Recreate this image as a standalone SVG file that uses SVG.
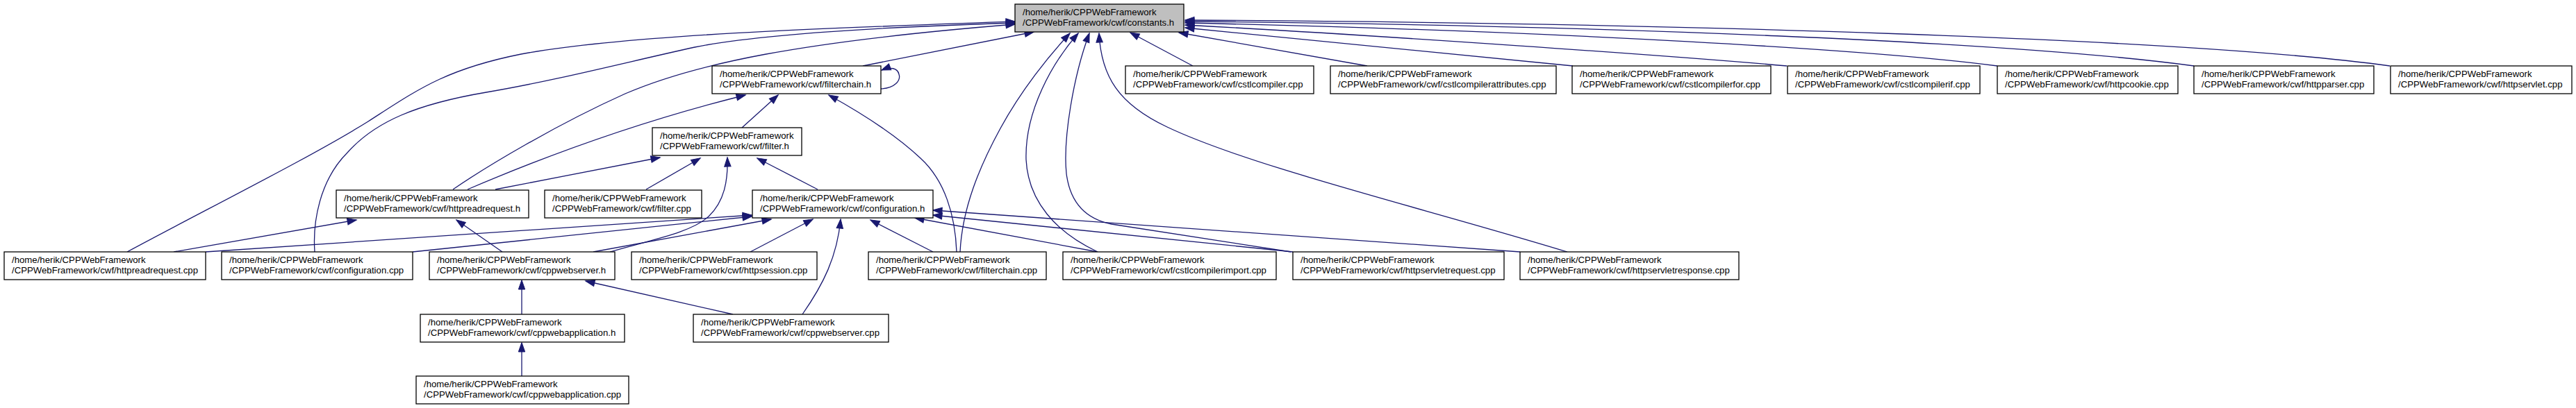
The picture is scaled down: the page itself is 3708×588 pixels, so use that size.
<svg xmlns="http://www.w3.org/2000/svg" width="3708" height="588" viewBox="0 0 3708 588">
<style>
.node rect{fill:#ffffff;stroke:#000000;stroke-width:1.3}
.node.main rect{fill:#bfbfbf}
.node text{font-family:"Liberation Sans",Arial,sans-serif;font-size:13.2px;fill:#000000}
.edges path{fill:none;stroke:#191970;stroke-width:1.3;marker-end:url(#arr)}
</style>
<defs>
<marker id="arr" markerUnits="userSpaceOnUse" markerWidth="16" markerHeight="12" refX="13" refY="4.7" orient="auto" overflow="visible">
<path d="M0,0 L13.3,4.7 L0,9.4 z" fill="#191970" stroke="#191970" stroke-width="1"/>
</marker>
</defs>
<rect width="3708" height="588" fill="#ffffff"/>
<g class="edges">
<path d="M1242,95 L1488,46"/>
<path d="M1717,95 L1627,47"/>
<path d="M1968,95 L1697,47"/>
<path d="M2264,95 L1706,40"/>
<path d="M2572,95 C2400,80 2000,52 1706,36"/>
<path d="M2875,95 C2700,72 2250,45 1706,33"/>
<path d="M3158,95 C2900,60 2300,36 1706,31"/>
<path d="M3440,95 C3150,55 2400,33 1706,29"/>
<path d="M183,363 C300,300 450,225 530,175 C600,130 640,100 750,78 C900,50 1200,40 1461,31"/>
<path d="M453,363 C450,320 460,260 500,220 C540,175 600,150 700,133 C800,116 900,90 1000,68 C1100,48 1300,38 1461,33"/>
<path d="M652,273 C700,240 800,180 900,135 C1000,92 1150,60 1461,35"/>
<path d="M1382,363 C1385,300 1410,240 1440,185 C1470,130 1510,80 1540,48"/>
<path d="M1580,363 C1520,335 1480,290 1477,230 C1475,160 1515,90 1552,48"/>
<path d="M1858,363 L1600,323 C1560,315 1540,290 1535,250 C1530,200 1545,110 1568,48"/>
<path d="M2256,363 C2050,300 1800,240 1680,183 C1610,150 1585,110 1582,48"/>
<path d="M1068,184 L1120,137"/>
<path d="M673,273 C750,240 900,180 1073,137"/>
<path d="M1377,363 C1375,310 1360,260 1325,228 C1290,195 1240,163 1193,137"/>
<path d="M1268,128 C1288,127 1297,116 1294,107 C1292,98 1282,96 1269,101"/>
<path d="M713,273 L950,227"/>
<path d="M930,273 L1008,228"/>
<path d="M878,363 C940,345 995,335 1020,312 C1043,290 1048,260 1047,227"/>
<path d="M854,363 L1110,316"/>
<path d="M1177,273 L1090,228"/>
<path d="M296,363 L1082,310"/>
<path d="M594,363 L1082,312"/>
<path d="M1080,363 L1170,316"/>
<path d="M1155,453 C1185,410 1205,370 1210,316"/>
<path d="M1343,363 L1253,317"/>
<path d="M1580,363 L1317,314"/>
<path d="M1861,363 L1343,310"/>
<path d="M2188,363 L1343,303"/>
<path d="M250,363 L513,317"/>
<path d="M723,363 L657,317"/>
<path d="M751,453 L751,404"/>
<path d="M1055,453 L843,405"/>
<path d="M751,542 L751,494"/>
</g>
<g id="node1" class="node main"><rect x="1461" y="6" width="243" height="40"/><text x="1472" y="22">/home/herik/CPPWebFramework</text><text x="1472" y="37">/CPPWebFramework/cwf/constants.h</text></g>
<g id="node2" class="node"><rect x="1025" y="95" width="243" height="40"/><text x="1036" y="111">/home/herik/CPPWebFramework</text><text x="1036" y="126">/CPPWebFramework/cwf/filterchain.h</text></g>
<g id="node3" class="node"><rect x="1620" y="95" width="271" height="40"/><text x="1631" y="111">/home/herik/CPPWebFramework</text><text x="1631" y="126">/CPPWebFramework/cwf/cstlcompiler.cpp</text></g>
<g id="node4" class="node"><rect x="1915" y="95" width="325" height="40"/><text x="1926" y="111">/home/herik/CPPWebFramework</text><text x="1926" y="126">/CPPWebFramework/cwf/cstlcompilerattributes.cpp</text></g>
<g id="node5" class="node"><rect x="2263" y="95" width="286" height="40"/><text x="2274" y="111">/home/herik/CPPWebFramework</text><text x="2274" y="126">/CPPWebFramework/cwf/cstlcompilerfor.cpp</text></g>
<g id="node6" class="node"><rect x="2573" y="95" width="277" height="40"/><text x="2584" y="111">/home/herik/CPPWebFramework</text><text x="2584" y="126">/CPPWebFramework/cwf/cstlcompilerif.cpp</text></g>
<g id="node7" class="node"><rect x="2875" y="95" width="260" height="40"/><text x="2886" y="111">/home/herik/CPPWebFramework</text><text x="2886" y="126">/CPPWebFramework/cwf/httpcookie.cpp</text></g>
<g id="node8" class="node"><rect x="3158" y="95" width="259" height="40"/><text x="3169" y="111">/home/herik/CPPWebFramework</text><text x="3169" y="126">/CPPWebFramework/cwf/httpparser.cpp</text></g>
<g id="node9" class="node"><rect x="3441" y="95" width="261" height="40"/><text x="3452" y="111">/home/herik/CPPWebFramework</text><text x="3452" y="126">/CPPWebFramework/cwf/httpservlet.cpp</text></g>
<g id="node10" class="node"><rect x="939" y="184" width="215" height="40"/><text x="950" y="200">/home/herik/CPPWebFramework</text><text x="950" y="215">/CPPWebFramework/cwf/filter.h</text></g>
<g id="node11" class="node"><rect x="484" y="274" width="277" height="40"/><text x="495" y="290">/home/herik/CPPWebFramework</text><text x="495" y="305">/CPPWebFramework/cwf/httpreadrequest.h</text></g>
<g id="node12" class="node"><rect x="784" y="274" width="226" height="40"/><text x="795" y="290">/home/herik/CPPWebFramework</text><text x="795" y="305">/CPPWebFramework/cwf/filter.cpp</text></g>
<g id="node13" class="node"><rect x="1083" y="274" width="260" height="40"/><text x="1094" y="290">/home/herik/CPPWebFramework</text><text x="1094" y="305">/CPPWebFramework/cwf/configuration.h</text></g>
<g id="node14" class="node"><rect x="6" y="363" width="290" height="40"/><text x="17" y="379">/home/herik/CPPWebFramework</text><text x="17" y="394">/CPPWebFramework/cwf/httpreadrequest.cpp</text></g>
<g id="node15" class="node"><rect x="319" y="363" width="275" height="40"/><text x="330" y="379">/home/herik/CPPWebFramework</text><text x="330" y="394">/CPPWebFramework/cwf/configuration.cpp</text></g>
<g id="node16" class="node"><rect x="618" y="363" width="267" height="40"/><text x="629" y="379">/home/herik/CPPWebFramework</text><text x="629" y="394">/CPPWebFramework/cwf/cppwebserver.h</text></g>
<g id="node17" class="node"><rect x="909" y="363" width="267" height="40"/><text x="920" y="379">/home/herik/CPPWebFramework</text><text x="920" y="394">/CPPWebFramework/cwf/httpsession.cpp</text></g>
<g id="node18" class="node"><rect x="1250" y="363" width="256" height="40"/><text x="1261" y="379">/home/herik/CPPWebFramework</text><text x="1261" y="394">/CPPWebFramework/cwf/filterchain.cpp</text></g>
<g id="node19" class="node"><rect x="1530" y="363" width="307" height="40"/><text x="1541" y="379">/home/herik/CPPWebFramework</text><text x="1541" y="394">/CPPWebFramework/cwf/cstlcompilerimport.cpp</text></g>
<g id="node20" class="node"><rect x="1861" y="363" width="304" height="40"/><text x="1872" y="379">/home/herik/CPPWebFramework</text><text x="1872" y="394">/CPPWebFramework/cwf/httpservletrequest.cpp</text></g>
<g id="node21" class="node"><rect x="2188" y="363" width="315" height="40"/><text x="2199" y="379">/home/herik/CPPWebFramework</text><text x="2199" y="394">/CPPWebFramework/cwf/httpservletresponse.cpp</text></g>
<g id="node22" class="node"><rect x="605" y="453" width="294" height="40"/><text x="616" y="469">/home/herik/CPPWebFramework</text><text x="616" y="484">/CPPWebFramework/cwf/cppwebapplication.h</text></g>
<g id="node23" class="node"><rect x="998" y="453" width="281" height="40"/><text x="1009" y="469">/home/herik/CPPWebFramework</text><text x="1009" y="484">/CPPWebFramework/cwf/cppwebserver.cpp</text></g>
<g id="node24" class="node"><rect x="599" y="542" width="306" height="40"/><text x="610" y="558">/home/herik/CPPWebFramework</text><text x="610" y="573">/CPPWebFramework/cwf/cppwebapplication.cpp</text></g>
</svg>
